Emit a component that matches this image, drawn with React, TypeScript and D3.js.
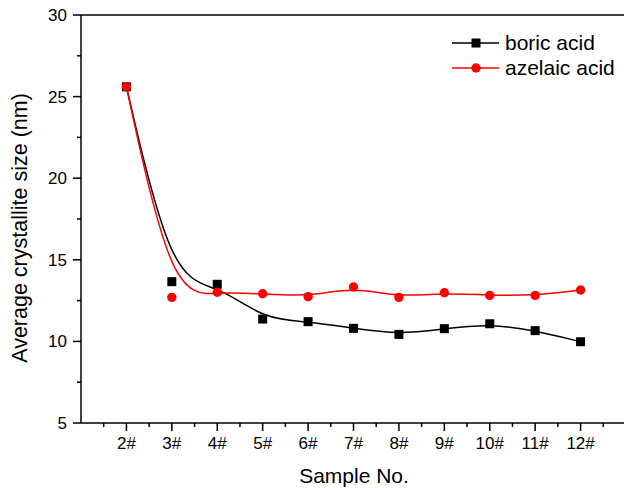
import React from "react";
import * as d3 from "d3";

const samples = ["2#", "3#", "4#", "5#", "6#", "7#", "8#", "9#", "10#", "11#", "12#"];
const sampleIdx = [2, 3, 4, 5, 6, 7, 8, 9, 10, 11, 12];
const boric = [25.6, 13.66, 13.5, 11.37, 11.21, 10.8, 10.43, 10.78, 11.08, 10.66, 9.98];
const azelaic = [25.6, 12.7, 13.01, 12.92, 12.74, 13.33, 12.7, 12.98, 12.82, 12.82, 13.15];
const yTicks = [5, 10, 15, 20, 25, 30];
const yMinor = [7.5, 12.5, 17.5, 22.5, 27.5];
const xMinor = [1.5, 2.5, 3.5, 4.5, 5.5, 6.5, 7.5, 8.5, 9.5, 10.5, 11.5, 12.5];

const W = 624, H = 488;
const L = 81, T = 15, B = 423, R = 626;
const FONT = "'Liberation Sans', Arial, sans-serif";

export default function App() {
  const x = d3.scaleLinear().domain([1, 13]).range([L, R]);
  const y = d3.scaleLinear().domain([5, 30]).range([B, T]);
  const line = d3
    .line<number>()
    .x((_, i) => x(sampleIdx[i]))
    .y((d) => y(d))
    .curve(d3.curveBasis);

  return (
    <svg width={W} height={H} style={{ position: "absolute", left: 0, top: 0, background: "#fff" }} fontFamily={FONT}>
      <rect width={W} height={H} fill="#fff" />
      {/* frame */}
      <line x1={L} x2={W} y1={T} y2={T} stroke="#000" strokeWidth={1.5} />
      <line x1={L} x2={L} y1={T} y2={B} stroke="#000" strokeWidth={1.5} />
      <line x1={L} x2={W} y1={B} y2={B} stroke="#000" strokeWidth={1.5} />
      {/* y ticks */}
      {yTicks.map((t) => (
        <g key={"y" + t}>
          <line x1={L - 8} x2={L} y1={y(t)} y2={y(t)} stroke="#000" strokeWidth={1.5} />
          <text x={L - 14} y={y(t)} dy="0.35em" textAnchor="end" fontSize={17}>
            {t}
          </text>
        </g>
      ))}
      {yMinor.map((t) => (
        <line key={"ym" + t} x1={L - 4} x2={L} y1={y(t)} y2={y(t)} stroke="#000" strokeWidth={1.5} />
      ))}
      {/* x ticks */}
      {sampleIdx.map((v, i) => (
        <g key={"x" + v}>
          <line x1={x(v)} x2={x(v)} y1={B} y2={B + 8} stroke="#000" strokeWidth={1.5} />
          <text x={x(v)} y={449} textAnchor="middle" fontSize={17}>
            {samples[i]}
          </text>
        </g>
      ))}
      {xMinor.map((v) => (
        <line key={"xm" + v} x1={x(v)} x2={x(v)} y1={B} y2={B + 4} stroke="#000" strokeWidth={1.5} />
      ))}
      {/* titles */}
      <text x={354} y={483} textAnchor="middle" fontSize={21}>
        Sample No.
      </text>
      <text transform={`translate(27,228) rotate(-90)`} textAnchor="middle" fontSize={21.5}>
        Average crystallite size (nm)
      </text>
      {/* series */}
      <path d={line(boric) || ""} fill="none" stroke="#000" strokeWidth={1.5} />
      <path d={line(azelaic) || ""} fill="none" stroke="#ff0000" strokeWidth={1.5} />
      {boric.map((v, i) => (
        <rect key={"b" + i} x={x(sampleIdx[i]) - 4.5} y={y(v) - 4.5} width={9} height={9} fill="#000" />
      ))}
      {azelaic.map((v, i) => (
        <circle key={"a" + i} cx={x(sampleIdx[i])} cy={y(v)} r={4.7} fill="#ff0000" />
      ))}
      {/* legend */}
      <g>
        <line x1={452} x2={499} y1={43} y2={43} stroke="#000" strokeWidth={1.5} />
        <rect x={476 - 4.5} y={43 - 4.5} width={9} height={9} fill="#000" />
        <text x={505} y={43} dy="0.35em" fontSize={21}>
          boric acid
        </text>
        <line x1={452} x2={499} y1={68} y2={68} stroke="#ff0000" strokeWidth={1.5} />
        <circle cx={476} cy={68} r={4.7} fill="#ff0000" />
        <text x={505} y={68} dy="0.35em" fontSize={21}>
          azelaic acid
        </text>
      </g>
    </svg>
  );
}
